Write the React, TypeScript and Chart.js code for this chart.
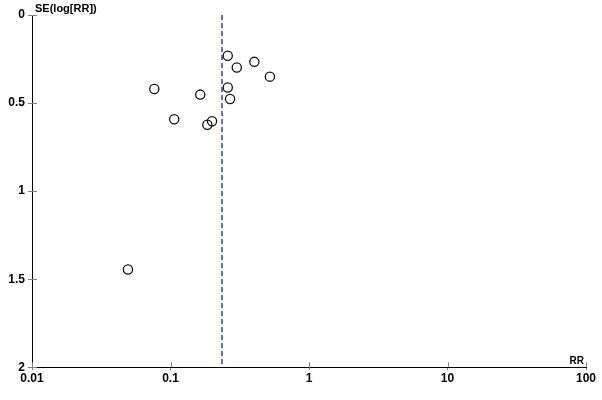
import React, { useEffect, useRef } from "react";
import { Chart, registerables } from "chart.js";

Chart.register(...registerables);

const rrValues = [0.259, 0.301, 0.403, 0.522, 0.259, 0.269, 0.0764, 0.164, 0.1064, 0.1846, 0.1995, 0.0493];
const seValues = [0.231, 0.298, 0.266, 0.35, 0.412, 0.477, 0.42, 0.452, 0.592, 0.623, 0.603, 1.445];
const pooledRR = 0.2355;
const xTicks = [0.01, 0.1, 1, 10, 100];
const yTicks = [0, 0.5, 1, 1.5, 2];
const yTitle = "SE(log[RR])";
const xTitle = "RR";

const FONT = "'Liberation Sans', Arial, sans-serif";

const decorPlugin = {
  id: "decor",
  afterDraw(chart: any) {
    const { ctx, chartArea, scales } = chart;
    const xs = scales.x;
    const ys = scales.y;
    ctx.save();
    ctx.strokeStyle = "#808080";
    ctx.lineWidth = 1;
    xTicks.forEach((v) => {
      const px = Math.round(xs.getPixelForValue(v)) + 0.5;
      ctx.beginPath();
      ctx.moveTo(px, chartArea.bottom);
      ctx.lineTo(px, chartArea.bottom - 5);
      ctx.stroke();
    });
    yTicks.forEach((v) => {
      const py = Math.round(ys.getPixelForValue(v)) + 0.5;
      ctx.beginPath();
      ctx.moveTo(chartArea.left, py);
      ctx.lineTo(chartArea.left + 5, py);
      ctx.stroke();
    });
    ctx.fillStyle = "#000";
    ctx.font = `bold 11px ${FONT}`;
    ctx.textAlign = "left";
    ctx.textBaseline = "alphabetic";
    ctx.fillText(yTitle, chartArea.left + 3, 12);
    ctx.font = `bold 10px ${FONT}`;
    ctx.textAlign = "right";
    ctx.fillText(xTitle, chartArea.right - 2, chartArea.bottom - 3);
    ctx.restore();
  },
};

export default function App() {
  const ref = useRef<HTMLCanvasElement | null>(null);
  useEffect(() => {
    document.body.style.margin = "0";
    const points = rrValues.map((x, i) => ({ x, y: seValues[i] }));
    const chart = new Chart(ref.current as HTMLCanvasElement, {
      type: "scatter",
      data: {
        datasets: [
          {
            data: [
              { x: pooledRR, y: yTicks[0] },
              { x: pooledRR, y: yTicks[yTicks.length - 1] },
            ],
            showLine: true,
            borderColor: "#1a2480",
            borderWidth: 1.3,
            borderDash: [5, 3],
            pointRadius: 0,
          },
          {
            data: points,
            pointRadius: 4.6,
            pointBorderWidth: 1.3,
            pointBorderColor: "#111",
            pointBackgroundColor: "rgba(255,255,255,0)",
            showLine: false,
          },
        ],
      },
      options: {
        animation: false,
        responsive: false,
        events: [],
        layout: { padding: { top: 15, right: 16, left: 0, bottom: 0 } },
        plugins: { legend: { display: false }, tooltip: { enabled: false } },
        scales: {
          x: {
            type: "logarithmic",
            min: 0.01,
            max: 100,
            afterBuildTicks: (scale: any) => {
              scale.ticks = xTicks.map((v) => ({ value: v, major: true }));
            },
            afterFit: (scale: any) => {
              scale.height = 32.7;
            },
            grid: { drawOnChartArea: false, drawTicks: true, tickLength: 3, color: "#808080" },
            border: { display: true, color: "#000", width: 1 },
            ticks: {
              autoSkip: false,
              maxRotation: 0,
              padding: 1,
              color: "#000",
              font: { family: FONT, size: 12, weight: "bold" },
              callback: (v: any) => String(v),
            },
          },
          y: {
            type: "linear",
            reverse: true,
            min: 0,
            max: 2,
            afterBuildTicks: (scale: any) => {
              scale.ticks = yTicks.map((v) => ({ value: v }));
            },
            afterFit: (scale: any) => {
              scale.width = 32;
            },
            grid: { drawOnChartArea: false, drawTicks: true, tickLength: 4, color: "#808080" },
            border: { display: true, color: "#000", width: 1 },
            ticks: {
              padding: 3,
              color: "#000",
              font: { family: FONT, size: 12, weight: "bold" },
              callback: (v: any) => String(v),
            },
          },
        },
      },
      plugins: [decorPlugin],
    } as any);
    return () => chart.destroy();
  }, []);
  return (
    <div style={{ width: 602, height: 400 }}>
      <canvas ref={ref} width={602} height={400} style={{ display: "block" }} />
    </div>
  );
}
